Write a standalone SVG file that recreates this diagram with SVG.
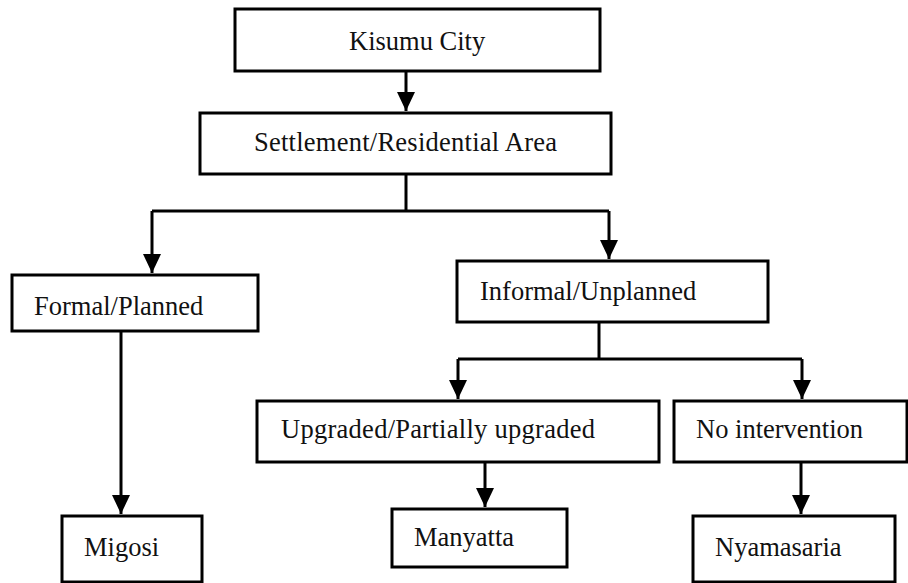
<svg xmlns="http://www.w3.org/2000/svg" width="908" height="583" viewBox="0 0 908 583">
<style>
  .box { fill: #ffffff; stroke: #000000; stroke-width: 3; }
  .lbl { font-family: 'Liberation Serif', 'Times New Roman', Times, serif; font-size: 26.5px; fill: #111111; }
  .conn { fill: none; stroke: #000000; stroke-width: 3; }
</style>
<defs>
  <marker id="arrow" markerUnits="userSpaceOnUse" markerWidth="18" markerHeight="22" refX="19" refY="9" orient="auto">
    <path d="M0,0 L19,9 L0,18 Z" fill="#000000"/>
  </marker>
</defs>
<rect width="908" height="583" fill="#ffffff"/>
<g id="connectors">
  <path class="conn" d="M406,71 L406,111" marker-end="url(#arrow)"/>
  <path class="conn" d="M406,174 L406,211"/>
  <path class="conn" d="M152,211 L609,211"/>
  <path class="conn" d="M152,211 L152,273" marker-end="url(#arrow)"/>
  <path class="conn" d="M609,211 L609,259" marker-end="url(#arrow)"/>
  <path class="conn" d="M121,331 L121,514" marker-end="url(#arrow)"/>
  <path class="conn" d="M599,322 L599,359"/>
  <path class="conn" d="M458,359 L802,359"/>
  <path class="conn" d="M458,359 L458,399" marker-end="url(#arrow)"/>
  <path class="conn" d="M802,359 L802,399" marker-end="url(#arrow)"/>
  <path class="conn" d="M485,462 L485,507" marker-end="url(#arrow)"/>
  <path class="conn" d="M801,462 L801,514" marker-end="url(#arrow)"/>
</g>
<g id="kisumu">
  <rect class="box" x="235" y="9" width="365" height="62"/>
  <text class="lbl" font-family="Liberation Serif, serif" x="349" y="50">Kisumu City</text>
</g>
<g id="settlement">
  <rect class="box" x="200" y="113" width="411" height="61"/>
  <text class="lbl" font-family="Liberation Serif, serif" x="254" y="151" textLength="303">Settlement/Residential Area</text>
</g>
<g id="formal">
  <rect class="box" x="12" y="275" width="246" height="56"/>
  <text class="lbl" font-family="Liberation Serif, serif" x="34" y="315">Formal/Planned</text>
</g>
<g id="informal">
  <rect class="box" x="457" y="261" width="311" height="61"/>
  <text class="lbl" font-family="Liberation Serif, serif" x="480" y="300">Informal/Unplanned</text>
</g>
<g id="upgraded">
  <rect class="box" x="257" y="401" width="402" height="61"/>
  <text class="lbl" font-family="Liberation Serif, serif" x="281" y="438" textLength="314">Upgraded/Partially upgraded</text>
</g>
<g id="nointervention">
  <rect class="box" x="674" y="401" width="233" height="61"/>
  <text class="lbl" font-family="Liberation Serif, serif" x="696" y="438">No intervention</text>
</g>
<g id="migosi">
  <rect class="box" x="62" y="516" width="140" height="66"/>
  <text class="lbl" font-family="Liberation Serif, serif" x="84" y="556">Migosi</text>
</g>
<g id="manyatta">
  <rect class="box" x="392" y="509" width="175" height="58"/>
  <text class="lbl" font-family="Liberation Serif, serif" x="414" y="546">Manyatta</text>
</g>
<g id="nyamasaria">
  <rect class="box" x="693" y="516" width="202" height="66"/>
  <text class="lbl" font-family="Liberation Serif, serif" x="715" y="556">Nyamasaria</text>
</g>
</svg>
